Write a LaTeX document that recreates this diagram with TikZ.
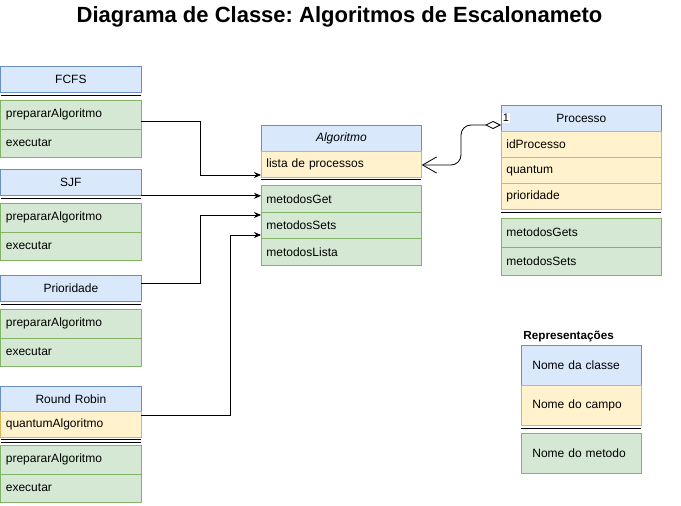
\documentclass[tikz,border=0pt]{standalone}
\usepackage{fontspec}
\setmainfont{Liberation Sans}
\usetikzlibrary{arrows.meta}
\definecolor{azulFundo}{HTML}{DAE8FC}
\definecolor{azulBorda}{HTML}{6C8EBF}
\definecolor{amareloFundo}{HTML}{FFF2CC}
\definecolor{amareloBorda}{HTML}{D6B656}
\definecolor{verdeFundo}{HTML}{D5E8D4}
\definecolor{verdeBorda}{HTML}{82B366}
\frenchspacing

\begin{document}
\begin{tikzpicture}[x=1pt, y=-1pt, line width=0.8pt,
	font=\fontsize{12}{14}\selectfont,
	classe/.style={draw=azulBorda, fill=azulFundo, anchor=north west, inner xsep=5pt, inner ysep=0pt, align=center, minimum height=26pt},
	campo/.style={draw=amareloBorda, fill=amareloFundo, anchor=north west, inner xsep=5pt, inner ysep=0pt, align=left, minimum height=26pt},
	metodo/.style={draw=verdeBorda, fill=verdeFundo, anchor=north west, inner xsep=5pt, inner ysep=0pt, align=left, minimum height=28.5pt},
	separa/.style={draw=black, double=white, double distance=2pt, line width=0.6pt},
	seta/.style={draw=black, line width=0.8pt, -{Stealth[length=7pt, width=6pt]}}]
		\useasboundingbox (0,0) rectangle (681,506);
		\node[font=\bfseries\fontsize{22}{26}\selectfont, anchor=base] (titulo) at (339.5,23) {Diagrama de Classe: Algoritmos de Escalonameto};
		% classes da esquerda
		\node[classe, text width=130pt] (fcfs) at (0.5,66) {FCFS};
		\draw[separa] (0.5,96.5) -- (140.5,96.5);
		\node[metodo, text width=130pt] (fcfsPrep) at (0.5,100) {prepararAlgoritmo};
		\node[metodo, text width=130pt] (fcfsExec) at (0.5,128.5) {executar};
		\node[classe, text width=130pt] (sjf) at (0.5,169) {SJF};
		\draw[separa] (0.5,199.5) -- (140.5,199.5);
		\node[metodo, text width=130pt] (sjfPrep) at (0.5,203) {prepararAlgoritmo};
		\node[metodo, text width=130pt] (sjfExec) at (0.5,231.5) {executar};
		\node[classe, text width=130pt] (prio) at (0.5,275) {Prioridade};
		\draw[separa] (0.5,305.5) -- (140.5,305.5);
		\node[metodo, text width=130pt] (prioPrep) at (0.5,309) {prepararAlgoritmo};
		\node[metodo, text width=130pt] (prioExec) at (0.5,337.5) {executar};
		\node[classe, text width=130pt, minimum height=25pt] (rr) at (0.5,386) {Round Robin};
		\node[campo, text width=130pt] (rrQuant) at (0.5,411) {quantumAlgoritmo};
		\draw[separa] (0.5,441) -- (140.5,441);
		\node[metodo, text width=130pt] (rrPrep) at (0.5,445) {prepararAlgoritmo};
		\node[metodo, text width=130pt] (rrExec) at (0.5,473.5) {executar};
		% classe Algoritmo
		\node[classe, text width=150pt, font=\itshape\fontsize{12}{14}\selectfont] (alg) at (261,125) {Algoritmo};
		\node[campo, text width=150pt] (algLista) at (261,151) {lista de processos};
		\draw[separa] (261,180.5) -- (421,180.5);
		\node[metodo, text width=150pt, minimum height=26.7pt] (algGet) at (261,185) {metodosGet};
		\node[metodo, text width=150pt, minimum height=26.7pt] (algSets) at (261,211.7) {metodosSets};
		\node[metodo, text width=150pt, minimum height=26.7pt] (algLst) at (261,238.4) {metodosLista};
		% classe Processo
		\node[classe, text width=150pt] (proc) at (501,105) {Processo};
		\node[campo, text width=150pt] (procId) at (501,131) {idProcesso};
		\node[campo, text width=150pt] (procQuant) at (501,157) {quantum};
		\node[campo, text width=150pt] (procPrio) at (501,183) {prioridade};
		\draw[separa] (501,213.5) -- (661,213.5);
		\node[metodo, text width=150pt] (procGets) at (501,218) {metodosGets};
		\node[metodo, text width=150pt] (procSets) at (501,246.5) {metodosSets};
		% heranca
		\draw[seta] (fcfsPrep.east |- 0,121) -| (200,175) -- (algLista.west |- 0,175);
		\draw[seta] (sjf.south east) -- (algGet.west |- sjf.south east);
		\draw[seta] (prio.east |- 0,283) -| (200,215) -- (algSets.west |- 0,215);
		\draw[seta] (rrQuant.east |- 0,415) -| (230,235) -- (algSets.west |- 0,235);
		% agregacao
		\draw[rounded corners=10pt, {Diamond[open, length=16pt, width=8pt]}-{Straight Barb[length=14pt, width=16pt]}] (proc.west |- 0,125) -| (461,165) -- (algLista.east |- 0,165);
		\node[fill=white, inner sep=1pt, anchor=west, font=\fontsize{11}{13}\selectfont] (um) at (501.5,118) {1};
		% legenda
		\node[font=\bfseries\fontsize{11.7}{14}\selectfont, anchor=base west, inner sep=0pt] (repr) at (523,339) {Representações};
		\node[classe, text width=98pt, inner xsep=11pt, align=left, minimum height=40pt] (legClasse) at (521,345) {Nome da classe};
		\node[campo, text width=98pt, inner xsep=11pt, minimum height=40pt] (legCampo) at (521,385) {Nome do campo};
		\draw[separa] (521,429.5) -- (641,429.5);
		\node[metodo, text width=98pt, inner xsep=11pt, minimum height=40pt] (legMetodo) at (521,433) {Nome do metodo};
	\end{tikzpicture}
\end{document}
